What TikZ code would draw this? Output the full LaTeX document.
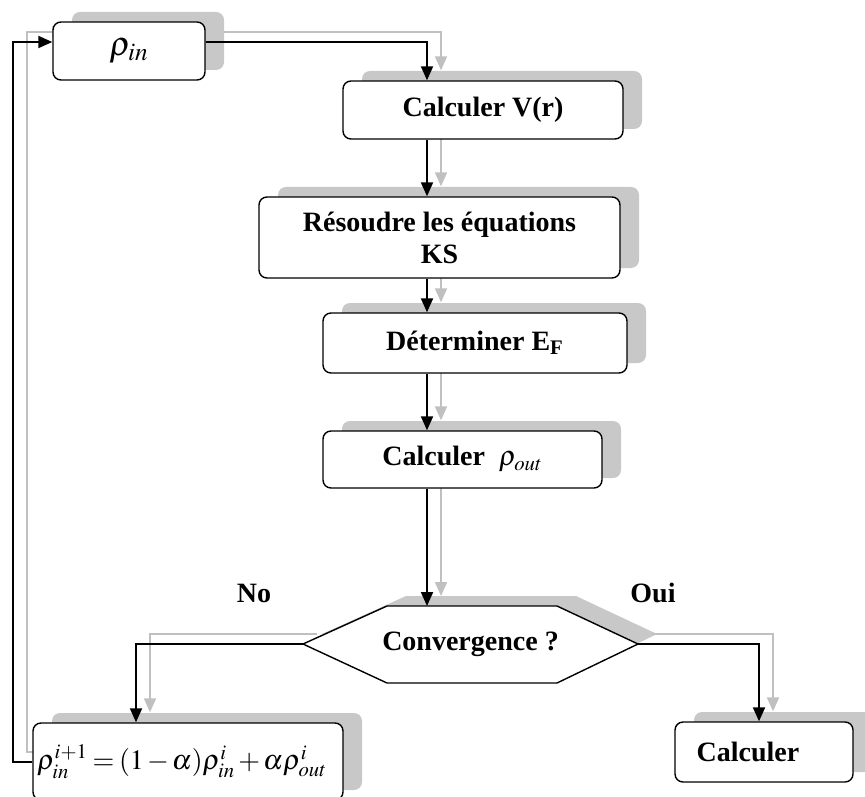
\documentclass[tikz,border=0pt]{standalone}
\usepackage{mathptmx}
\usepackage[no-math]{fontspec}
\setmainfont{Liberation Serif}
\usetikzlibrary{positioning, arrows.meta, shadows}
\pgfdeclarelayer{bg}
\pgfsetlayers{bg,main}
\definecolor{shadowgray}{HTML}{C8C8C8}
\definecolor{ghostgray}{HTML}{C0C0C0}

% connectors of the loop, drawn twice (ghost copy + black)
\newcommand{\scfconnectors}[1]{%
\draw[#1] ([yshift=4.5pt]rhoin.east) -| (calcV.north -| spine);
\draw[#1] (calcV.south -| spine) -- (resoudre.north -| spine);
\draw[#1] (resoudre.south -| spine) -- (determ.north -| spine);
\draw[#1] (determ.south -| spine) -- (calcrho.north -| spine);
\draw[#1] (calcrho.south -| spine) -- (conv-n -| spine);
\draw[#1] (conv-w) -| (update.north -| nobranch);
\draw[#1] (conv-e) -| (calcfin.north -| oubranch);
\draw[#1] (update.west) -- (update.west -| loopline) |- ([yshift=4.5pt]rhoin.west);
}

\begin{document}
\begin{tikzpicture}[x=0.5pt, y=-0.5pt,
  font=\fontsize{14}{16}\selectfont\bfseries,
  box/.style={draw, line width=0.7pt, rounded corners=4pt, fill=white,
    inner sep=0pt,
    drop shadow={shadow xshift=9.5pt, shadow yshift=5pt, fill=shadowgray, opacity=1}},
  wire/.style={line width=1pt, -{Triangle[length=7pt, width=6pt]}},
  ghost/.style={wire, ghostgray}]
\useasboundingbox (0,0) rectangle (865,796);

% boxes
\node[box, minimum width=76pt, minimum height=29pt] (rhoin) at (129,51)
  {\fontsize{17}{19}\selectfont$\rho_{in}$};
\node[box, minimum width=140pt, minimum height=29pt] (calcV) at (483,110) {Calculer V(r)};
\node[box, minimum width=180.5pt, minimum height=40.5pt, align=center] (resoudre) at (439.5,237.5)
  {Résoudre les équations\\KS};
\node[box, minimum width=152pt, minimum height=30pt] (determ) at (475,343) {Déterminer E\textsubscript{F}};
\node[box, minimum width=139.5pt, minimum height=28.5pt] (calcrho) at (462.5,459.5)
  {Calculer \ $\rho_{out}$};
\node[box, minimum width=155pt, minimum height=38.5pt] (update) at (188,761.5)
  {\hspace{-6pt}$\medmuskip=2mu\thickmuskip=3mu
   \rho_{in}^{i+1}=(1-\alpha)\rho_{in}^{i}+\alpha\rho_{out}^{i}$};
\node[box, minimum width=89pt, minimum height=30pt] (calcfin) at (764,752) {\hspace{-16pt}Calculer};

% hexagon
\coordinate (conv-w) at (303,644);
\coordinate (conv-e) at (638,644);
\coordinate (conv-n) at (470,606);
\begin{pgfonlayer}{bg}
\fill[shadowgray, xshift=9.5pt, yshift=5pt]
  (303,644) -- (387,606) -- (557,606) -- (638,644) -- (557,683) -- (387,683) -- cycle;
\end{pgfonlayer}
\draw[line width=0.7pt, fill=white]
  (conv-w) -- (387,606) -- (557,606) -- (conv-e) -- (557,683) -- (387,683) -- cycle;
\node (conv) at (470.5,644) {Convergence ?};

\node (no) at (254,593) {No};
\node (oui) at (653,593) {Oui};

% connectors
\coordinate (spine) at (427,0);
\coordinate (loopline) at (13,0);
\coordinate (nobranch) at (136,0);
\coordinate (oubranch) at (759,0);
\begin{pgfonlayer}{bg}
\begin{scope}[transform canvas={shift={(7pt,5pt)}}]
\scfconnectors{ghost}
\end{scope}
\end{pgfonlayer}
\scfconnectors{wire}
\end{tikzpicture}
\end{document}
